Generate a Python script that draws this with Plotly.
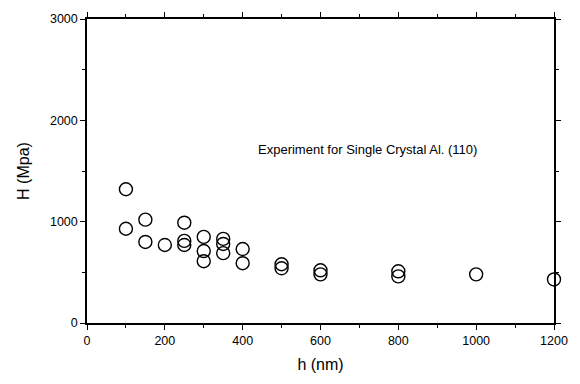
import plotly.graph_objects as go

h_nm = [100, 100, 150, 150, 200, 250, 250, 250, 300, 300, 300, 350, 350, 350,
        400, 400, 500, 500, 600, 600, 800, 800, 1000, 1200]
H_mpa = [1320, 930, 1020, 800, 770, 990, 810, 770, 850, 710, 610, 830, 780, 690,
         730, 590, 580, 540, 520, 480, 510, 460, 480, 430]

x_ticks = [0, 200, 400, 600, 800, 1000, 1200]
y_ticks = [0, 1000, 2000, 3000]
annotation_text = "Experiment for Single Crystal Al. (110)"

FONT = "Liberation Sans, Arial"

fig = go.Figure()
fig.add_trace(go.Scatter(
    x=h_nm, y=H_mpa, mode="markers",
    marker=dict(symbol="circle-open", size=13, color="black", line=dict(width=1.4)),
    cliponaxis=False, showlegend=False,
))

axis_common = dict(
    showgrid=False, zeroline=False, showline=True, linecolor="black", linewidth=1.5,
    ticks="outside", ticklen=5, tickwidth=1.2, tickcolor="black",
    mirror="ticks",
    tickfont=dict(family=FONT, size=12.5, color="black"),
)

fig.update_layout(
    width=580, height=384,
    margin=dict(l=87, r=24, t=17, b=61),
    paper_bgcolor="white", plot_bgcolor="white",
    xaxis=dict(range=[0, 1200], tickvals=x_ticks,
               title=dict(text="h (nm)", font=dict(family=FONT, size=16, color="black"), standoff=12),
               minor=dict(ticks="outside", dtick=100, ticklen=3, tickcolor="black"),
               **axis_common),
    yaxis=dict(range=[0, 3000], tickvals=y_ticks,
               title=dict(text="H (Mpa)", font=dict(family=FONT, size=16, color="black"), standoff=16),
               minor=dict(ticks="outside", dtick=500, ticklen=3, tickcolor="black"),
               **axis_common),
    annotations=[dict(
        x=721, y=1716, xref="x", yref="y", text=annotation_text, showarrow=False,
        font=dict(family=FONT, size=13, color="black"),
    )],
)

fig.write_html("out.html")
